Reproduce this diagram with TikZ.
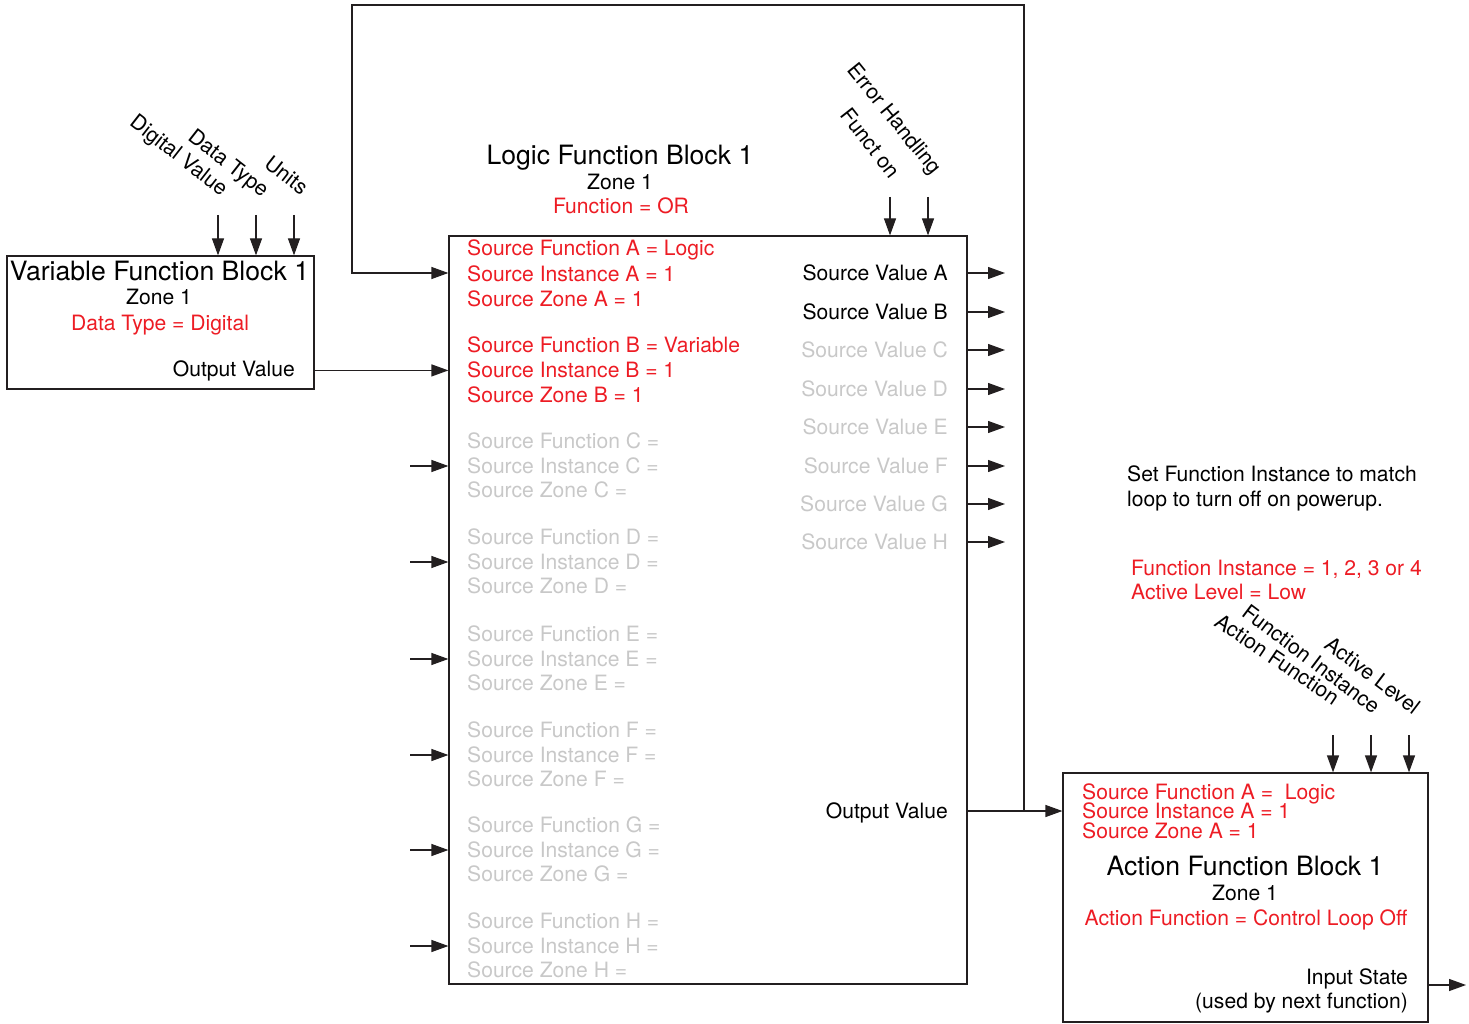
\documentclass[tikz,border=0pt]{standalone}
\usepackage{fontspec}
\setmainfont{TeX Gyre Heros}
\usetikzlibrary{arrows.meta}
\definecolor{cred}{RGB}{237,28,36}
\definecolor{cgray}{RGB}{200,200,200}
\definecolor{cline}{RGB}{35,31,32}
\begin{document}
\begin{tikzpicture}[x=1pt,y=-1pt,
  blk/.style={draw=cline,line width=1.2pt,inner sep=0pt,rectangle},
  arr/.style={draw=cline,line width=1.2pt,-{Triangle[length=17pt,width=12pt]}},
  txt/.style={inner sep=0pt,font=\fontsize{21.1}{25}\selectfont},
  ttl/.style={inner sep=0pt,font=\fontsize{26.6}{30}\selectfont},
  rtxt/.style={txt,text=cred},
  gtxt/.style={txt,text=cgray},
  rot/.style={txt,anchor=base east,rotate=#1}]
\useasboundingbox (0,0) rectangle (1469,1024);

% blocks
\node[blk,minimum width=307pt,minimum height=133pt] (vfb) at (160.5,322.5) {};
\node[blk,minimum width=518pt,minimum height=748pt] (lfb) at (708,610) {};
\node[blk,minimum width=365pt,minimum height=249pt] (afb) at (1245.5,897.5) {};

% variable function block
\node[ttl,anchor=base] (vt) at (159.5,280) {Variable Function Block 1};
\node[txt,anchor=base] (vz) at (159,305) {Zone 1};
\node[rtxt,anchor=base] (vd) at (160,330) {Data Type = Digital};
\node[txt,anchor=base east] (vov) at (295,376) {Output Value};
\foreach \x [count=\i] in {218,256,294} {
  \coordinate (vi\i) at (\x,215);
  \draw[arr] (vi\i) -- (vi\i |- vfb.north);
}
\node[rot=-38] (lDV) at (221,197) {Digital Value};
\node[rot=-38] (lDT) at (262,198) {Data Type};
\node[rot=-38] (lU) at (301,196) {Units};
\draw[arr] (vfb.east |- vov) -- (lfb.west |- vov);

% logic function block
\node[ttl,anchor=base] (lt) at (620,165) {Logic Function Block 1};
\node[txt,anchor=base] (lz) at (620,190) {Zone 1};
\node[rtxt,anchor=base] (lf) at (621,214) {Function = OR};
\foreach \t/\y [count=\i] in {Source Function A = Logic/256,Source Instance A = 1/281,Source Zone A = 1/306,Source Function B = Variable/352,Source Instance B = 1/377,Source Zone B = 1/402} {
  \node[rtxt,anchor=base west] (r\i) at (467,\y) {\t};
}
\foreach \L/\y in {C/448,D/544,E/641,F/737,G/832,H/928} {
  \node[gtxt,anchor=base west] (sf\L) at (467,\y) {Source Function \L\ =};
  \node[gtxt,anchor=base west] (si\L) at (467,\y+25) {Source Instance \L\ =};
  \node[gtxt,anchor=base west] (sz\L) at (467,\y+49) {Source Zone \L\ =};
  \coordinate (in\L) at (410,\y+18);
  \draw[arr] (in\L) -- (in\L -| lfb.west);
}
\foreach \L/\y/\c in {A/273/black,B/312/black,C/350/cgray,D/389/cgray,E/427/cgray,F/466/cgray,G/504/cgray,H/542/cgray} {
  \node[txt,text=\c,anchor=base east] (sv\L) at (948,\y+7) {Source Value \L};
  \coordinate (out\L) at (1005,\y);
  \draw[arr] (lfb.east |- out\L) -- (out\L);
}
\foreach \x [count=\i] in {890,928} {
  \coordinate (ei\i) at (\x,197);
  \draw[arr] (ei\i) -- (ei\i |- lfb.north);
}
\node[rot=-52] (lFO) at (890,180) {Funct on};
\node[rot=-51] (lEH) at (932,176) {Error Handling};

\node[txt,anchor=base east] (ov) at (948,818) {Output Value};
\coordinate (jn) at (1024,811);
\coordinate (fb) at (352,5);
\coordinate (fbin) at (352,273);
\draw[arr] (lfb.east |- jn) -- (afb.west |- jn);
\draw[arr] (jn) -- (jn |- fb) -- (fb) -- (fbin) -- (fbin -| lfb.west);

% action function block
\node[rtxt,anchor=base west] (a1) at (1082,799) {Source Function A = \ Logic};
\node[rtxt,anchor=base west] (a2) at (1082,818) {Source Instance A = 1};
\node[rtxt,anchor=base west] (a3) at (1082,838) {Source Zone A = 1};
\node[ttl,anchor=base] (at) at (1245,875) {Action Function Block 1};
\node[txt,anchor=base] (az) at (1245,900) {Zone 1};
\node[rtxt,anchor=base] (af) at (1246,925) {Action Function = Control Loop Off};
\node[txt,anchor=base east] (ais) at (1408,984) {Input State};
\node[txt,anchor=base east] (aus) at (1408,1008) {(used by next function)};
\coordinate (aout) at (1466,985);
\draw[arr] (afb.east |- aout) -- (aout);
\foreach \x [count=\i] in {1333,1371,1409} {
  \coordinate (ai\i) at (\x,735);
  \draw[arr] (ai\i) -- (ai\i |- afb.north);
}
\node[rot=-34] (lAF) at (1333,706) {Action Function};
\node[rot=-37] (lFI) at (1373,715) {Function Instance};
\node[rot=-37] (lAL) at (1413,715) {Active Level};

% notes
\node[txt,anchor=base west] (n1) at (1127,481) {Set Function Instance to match};
\node[txt,anchor=base west] (n2) at (1127,506) {loop to turn off on powerup.};
\node[rtxt,anchor=base west] (n3) at (1131,575) {Function Instance = 1, 2, 3 or 4};
\node[rtxt,anchor=base west] (n4) at (1131,599) {Active Level = Low};
\end{tikzpicture}
\end{document}
